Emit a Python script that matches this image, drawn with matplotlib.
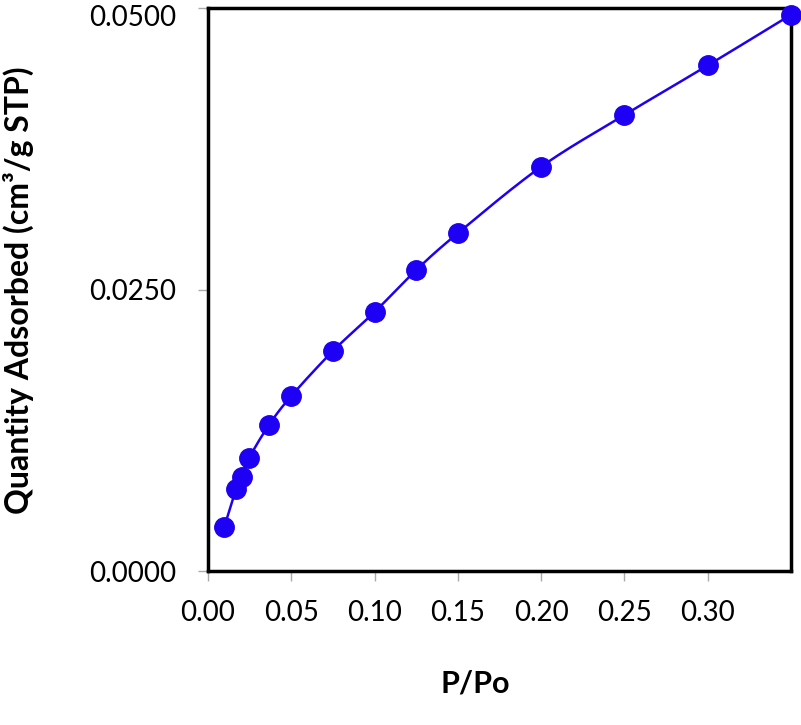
import numpy as np
import matplotlib
matplotlib.use("Agg")
import matplotlib.pyplot as plt
import matplotlib.transforms as mtransforms
from matplotlib.ticker import FormatStrFormatter

# Data
p_po = [0.0097, 0.0168, 0.0202, 0.0248, 0.0366, 0.0500, 0.0750, 0.1000,
        0.1250, 0.1500, 0.2000, 0.2500, 0.3000, 0.3500]
quantity = [0.00388, 0.00728, 0.00837, 0.01006, 0.01297, 0.01554, 0.01954,
            0.02300, 0.02673, 0.03000, 0.03590, 0.04050, 0.04490, 0.04940]
x_ticks = [0.00, 0.05, 0.10, 0.15, 0.20, 0.25, 0.30]
y_ticks = [0.0, 0.025, 0.05]

plt.rcParams['font.family'] = ['Lato', 'DejaVu Sans']

def smooth(xs, ys, n=20):
    # Catmull-Rom style smoothing for the connecting line (Excel "smoothed line")
    xs = np.asarray(xs); ys = np.asarray(ys)
    px = np.concatenate([[2*xs[0]-xs[1]], xs, [2*xs[-1]-xs[-2]]])
    py = np.concatenate([[2*ys[0]-ys[1]], ys, [2*ys[-1]-ys[-2]]])
    ox, oy = [], []
    for i in range(1, len(px)-2):
        t = np.linspace(0, 1, n, endpoint=False)
        for arr, out in ((px, ox), (py, oy)):
            p0, p1, p2, p3 = arr[i-1], arr[i], arr[i+1], arr[i+2]
            out.extend(0.5*((2*p1) + (-p0+p2)*t + (2*p0-5*p1+4*p2-p3)*t**2
                            + (-p0+3*p1-3*p2+p3)*t**3))
    ox.append(xs[-1]); oy.append(ys[-1])
    return np.array(ox), np.array(oy)

fig = plt.figure(figsize=(8.01, 7.25), dpi=100)
ax = fig.add_axes([208/801, 1-571/725, (791-208)/801, (571-8)/725])

color = '#1e00f5'
sx, sy = smooth(p_po, quantity)
ax.plot(sx, sy, color=color, lw=1.8, zorder=3, clip_on=False)
ax.plot(p_po, quantity, 'o', color=color, ms=14, zorder=4, clip_on=False)

ax.set_xlim(0, 0.35)
ax.set_ylim(0, 0.05)
ax.set_xticks(x_ticks)
ax.set_yticks(y_ticks)
ax.xaxis.set_major_formatter(FormatStrFormatter('%.2f'))
ax.yaxis.set_major_formatter(FormatStrFormatter('%.4f'))
ax.tick_params(axis='both', direction='out', length=7, width=1, color='#aaaaaa',
               labelsize=20)
ax.tick_params(axis='x', pad=14)
ax.tick_params(axis='y', pad=16)

for s in ax.spines.values():
    s.set_linewidth(2.5)
    s.set_color('black')

xl = ax.set_xlabel('P/Po', fontsize=22, fontweight='bold')
xl.set_va('center')
ax.xaxis.set_label_coords((475-208)/583, (571-684)/563)
yl = ax.set_ylabel('Quantity Adsorbed (cm\u00b3/g STP)', fontsize=23, fontweight='bold')
yl.set_va('center')
ax.yaxis.set_label_coords((18-208)/583, (571-290)/563)

# Top y tick label sits slightly below its tick in the reference (kept inside the figure)
fig.canvas.draw()
top_label = ax.yaxis.get_major_ticks()[-1].label1
top_label.set_transform(top_label.get_transform() +
                        mtransforms.ScaledTranslation(0, -7/100, fig.dpi_scale_trans))

fig.savefig('out.png', dpi=100)
